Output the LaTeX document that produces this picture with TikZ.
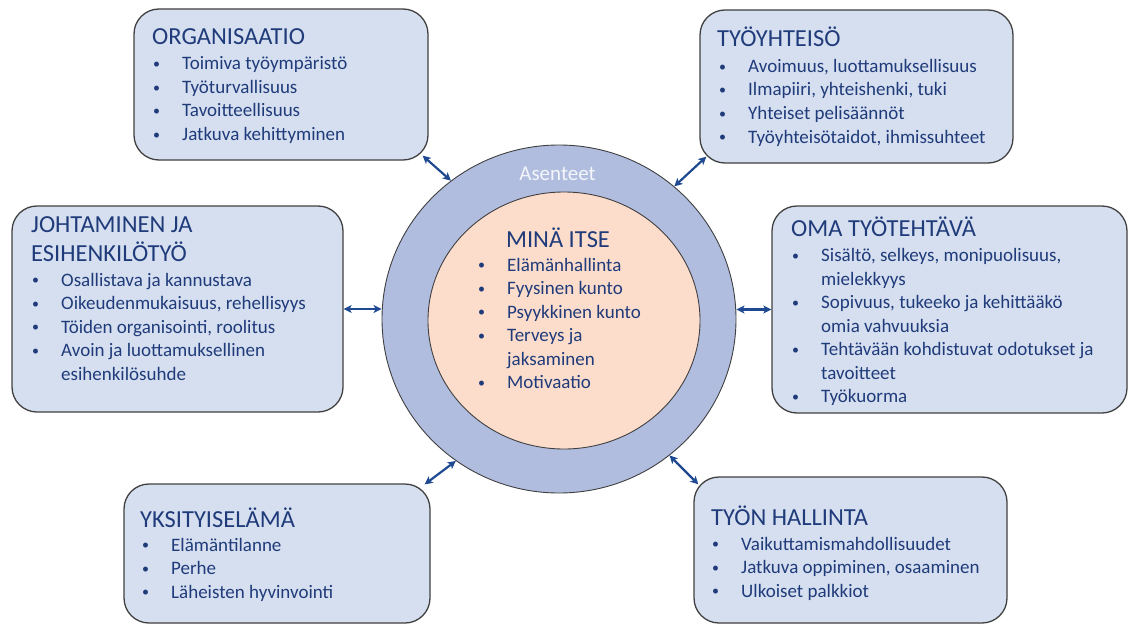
\documentclass[tikz,border=0pt]{standalone}
\usepackage{fontspec}
\setmainfont{Carlito}
\usetikzlibrary{arrows.meta,calc,shapes.geometric}

\definecolor{boxfill}{HTML}{D6DFF0}
\definecolor{boxline}{HTML}{404040}
\definecolor{ink}{HTML}{1F3B7A}
\definecolor{ringfill}{HTML}{B0BDDF}
\definecolor{corefill}{HTML}{FCDDCC}
\definecolor{linkblue}{HTML}{1F4A92}
\definecolor{ringtext}{HTML}{F4F6FB}

\newcommand\bodyfont{\fontsize{19}{23.5}\selectfont}
\newcommand\headfont{\fontsize{24.5}{29}\selectfont}
\newcommand\pointlist[1]{\begin{tabular}[t]{@{}p{30pt}@{}l@{}}#1\end{tabular}}
\newcommand\headlines[1]{\begin{tabular}[t]{@{}l@{}}#1\end{tabular}}
\newcommand\itm{\hspace*{0.8pt}\raisebox{1.4pt}{\fontsize{14}{14}\selectfont\textbullet}&}

\begin{document}
\begin{tikzpicture}[x=1pt,y=-1pt,
  panel/.style={draw=boxline, line width=1.3pt, fill=boxfill, rounded corners=25pt, inner sep=0pt},
  head/.style={anchor=base west, inner sep=0pt, text=ink, font=\headfont},
  items/.style={anchor=base west, inner sep=0pt, text=ink, font=\bodyfont},
  link/.style={draw=linkblue, line width=2.2pt,
    {Stealth[length=8pt,width=8pt,inset=2pt]}-{Stealth[length=8pt,width=8pt,inset=2pt]}}]

\useasboundingbox (0,0) rectangle (1135,626);

% central rings
\node[ellipse, draw=boxline, line width=0.9pt, fill=ringfill, inner sep=0pt,
      minimum width=354pt, minimum height=348pt] (ring) at (559,319) {};
\node[ellipse, draw=boxline, line width=0.9pt, fill=corefill, inner sep=0pt,
      minimum width=272pt, minimum height=257pt] (core) at (564,320.5) {};
\node[anchor=base, inner sep=0pt, text=ringtext, font=\fontsize{21}{25}\selectfont] (att) at (557.5,180) {Asenteet};

\node[anchor=base, inner sep=0pt, text=ink, font=\headfont] (selfh) at (558,247) {MINÄ ITSE};
\node[items] (selfl) at (477,271) {\pointlist{
  \itm Elämänhallinta\\
  \itm Fyysinen kunto\\
  \itm Psyykkinen kunto\\
  \itm Terveys ja\\
  & jaksaminen\\
  \itm Motivaatio}};

% surrounding panels
\node[panel, minimum width=294pt, minimum height=151pt] (org)  at (281,84.5) {};
\node[panel, minimum width=313pt, minimum height=153pt] (yht)  at (856.5,86.5) {};
\node[panel, minimum width=331pt, minimum height=206pt] (joht) at (177.5,309) {};
\node[panel, minimum width=355pt, minimum height=207pt] (oma)  at (949.5,309.5) {};
\node[panel, minimum width=306pt, minimum height=139pt] (yksi) at (277,553.5) {};
\node[panel, minimum width=313pt, minimum height=146pt] (tyon) at (850.5,550) {};

% panel texts
\node[head] (orgh) at (152,45) {ORGANISAATIO};
\node[items] (orgl) at (152,70) {\pointlist{
  \itm Toimiva työympäristö\\
  \itm Työturvallisuus\\
  \itm Tavoitteellisuus\\
  \itm Jatkuva kehittyminen}};

\node[head] (yhth) at (717,47) {TYÖYHTEISÖ};
\node[items] (yhtl) at (718,72.5) {\pointlist{
  \itm Avoimuus, luottamuksellisuus\\
  \itm Ilmapiiri, yhteishenki, tuki\\
  \itm Yhteiset pelisäännöt\\
  \itm Työyhteisötaidot, ihmissuhteet}};

\node[head] (johth) at (31,232) {\headlines{JOHTAMINEN JA\\ESIHENKILÖTYÖ}};
\node[items] (johtl) at (31,286) {\pointlist{
  \itm Osallistava ja kannustava\\
  \itm Oikeudenmukaisuus, rehellisyys\\
  \itm Töiden organisointi, roolitus\\
  \itm Avoin ja luottamuksellinen\\
  & esihenkilösuhde}};

\node[head] (omah) at (791,236) {OMA TYÖTEHTÄVÄ};
\node[items] (omal) at (791,261.5) {\pointlist{
  \itm Sisältö, selkeys, monipuolisuus,\\
  & mielekkyys\\
  \itm Sopivuus, tukeeko ja kehittääkö\\
  & omia vahvuuksia\\
  \itm Tehtävään kohdistuvat odotukset ja\\
  & tavoitteet\\
  \itm Työkuorma}};

\node[head] (yksih) at (140,527) {YKSITYISELÄMÄ};
\node[items] (yksil) at (141,551) {\pointlist{
  \itm Elämäntilanne\\
  \itm Perhe\\
  \itm Läheisten hyvinvointi}};

\node[head] (tyonh) at (711,525) {TYÖN HALLINTA};
\node[items] (tyonl) at (711,550) {\pointlist{
  \itm Vaikuttamismahdollisuudet\\
  \itm Jatkuva oppiminen, osaaminen\\
  \itm Ulkoiset palkkiot}};

% two-way links between the panels and the ring
\draw[link] ($(org.south east)+(-6,-5)$) -- (ring.128.5);
\draw[link] ($(yht.south west)+(7,-7)$) -- (ring.49);
\draw[link] (joht.east) -- (joht.east -| ring.west);
\draw[link] (oma.west -| ring.east) -- (oma.west);
\draw[link] ($(yksi.north east)+(-6,1)$) -- (ring.234);
\draw[link] ($(tyon.north west)+(5,8)$) -- (ring.309);

\end{tikzpicture}
\end{document}
